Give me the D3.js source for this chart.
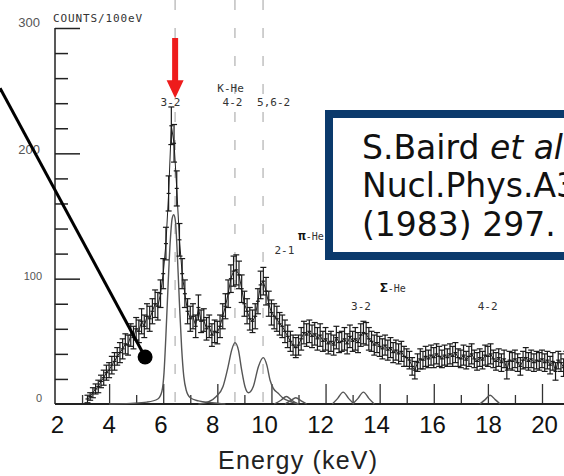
<!DOCTYPE html>
<html>
<head>
<meta charset="utf-8">
<script src="https://cdn.jsdelivr.net/npm/d3@7"></script>
<style>
body { margin: 0; background: #fff; }
svg { display: block; }
.mono { font-family: "DejaVu Sans Mono", monospace; fill: #333; }
.axis-labels text { font-family: "Liberation Sans", Arial, sans-serif; font-size: 24px; fill: #111; }
</style>
</head>
<body>
<svg width="564" height="476"></svg>
<script>
// counts per 100 eV bin, first bin at 3.2 keV
var binStart = 3.2, binWidth = 0.1;
var counts = [
  4, 6, 9, 12, 14, 18, 21, 25, 27, 31,
  34, 38, 41, 44, 48, 47, 55, 53, 60, 58,
  66, 62, 70, 68, 74, 80, 78, 88, 104, 128,
  168, 222, 208, 172, 131, 104, 88, 74, 68, 70,
  62, 77, 66, 67, 60, 62, 55, 58, 57, 62,
  70, 78, 88, 100, 106, 107, 103, 92, 80, 74,
  68, 66, 70, 82, 95, 98, 90, 80, 73, 70,
  68, 64, 62, 58, 54, 50, 47, 45, 47, 52,
  57, 55, 58, 54, 56, 52, 55, 50, 52, 48,
  50, 47, 53, 49, 50, 52, 48, 54, 50, 52,
  49, 55, 57, 56, 52, 50, 47, 49, 46, 44,
  47, 43, 45, 41, 43, 40, 42, 38, 37, 35,
  30, 27, 33, 36, 35, 38, 36, 39, 37, 40,
  38, 36, 39, 37, 40, 38, 41, 37, 36, 39,
  35, 38, 40, 36, 34, 37, 35, 39, 38, 40,
  36, 34, 37, 33, 36, 27, 35, 34, 36, 33,
  30, 35, 37, 34, 36, 33, 35, 34, 36, 33,
  35, 31, 34, 26, 35, 33, 29, 34
];
var errs = [
  3, 3, 4, 4, 5, 5, 6, 6, 6, 7,
  7, 7, 8, 8, 8, 8, 9, 9, 9, 9,
  10, 9, 10, 10, 10, 11, 11, 11, 12, 13,
  14, 15, 15, 14, 13, 12, 11, 10, 10, 10,
  9, 10, 9, 9, 9, 9, 9, 9, 9, 9,
  10, 10, 11, 11, 12, 12, 11, 11, 10, 10,
  9, 9, 10, 10, 11, 11, 11, 10, 10, 10,
  10, 9, 9, 9, 9, 8, 8, 8, 8, 9,
  9, 9, 9, 9, 9, 9, 9, 8, 9, 8,
  8, 8, 9, 8, 8, 9, 8, 9, 8, 9,
  8, 9, 9, 9, 9, 8, 8, 8, 8, 8,
  8, 8, 8, 8, 8, 8, 8, 8, 7, 7,
  7, 7, 7, 8, 7, 8, 7, 8, 8, 8,
  8, 7, 8, 7, 8, 8, 8, 7, 7, 8,
  7, 8, 8, 7, 7, 7, 7, 8, 8, 8,
  7, 7, 7, 7, 7, 7, 7, 7, 7, 7,
  7, 7, 8, 7, 7, 7, 7, 7, 7, 7,
  7, 7, 7, 7, 7, 7, 7, 8
];

// fitted line shapes [keV, counts]
var fitMain = [[4.0,0],[4.8,0.5],[5.4,1.5],[5.8,4],[5.95,10],[6.03,25],[6.1,55],[6.18,95],[6.26,130],[6.33,148],[6.39,151],[6.45,146],[6.52,120],[6.6,80],[6.68,45],[6.76,22],[6.85,11],[7.0,5],[7.3,2.5],[7.8,1],[8.3,0]];
var fitKHe = [[7.3,0],[7.7,2],[7.96,6],[8.21,14],[8.4,30],[8.53,43],[8.65,49],[8.78,43],[8.9,27],[9.02,14],[9.15,9],[9.33,14],[9.52,30],[9.7,37],[9.83,31],[9.95,19],[10.07,12.5],[10.25,8.5],[10.44,4.5],[10.7,2],[11.0,0]];
var fitSmall = [
  [[10.1,0],[10.35,3],[10.55,6],[10.75,3],[11.0,0]],
  [[10.5,0],[10.7,2.5],[10.9,5],[11.1,2.5],[11.3,0]],
  [[12.25,0],[12.45,4.5],[12.65,9.5],[12.85,4.5],[13.05,0]],
  [[13.0,0],[13.2,4.5],[13.4,9.5],[13.6,4.5],[13.8,0]],
  [[17.7,0],[17.9,3.5],[18.08,7],[18.27,3.5],[18.45,0]]
];

var dashedLines = [6.44, 8.65, 9.69];
var xTickLabels = [2, 4, 6, 8, 10, 12, 14, 16, 18, 20];
var yTickLabels = [0, 100, 200, 300];

// peak labels: text, keV, counts, anchor
var peakLabels = [
  ["3-2", 6.27, 238, "middle"],
  ["K-He", 8.49, 249, "middle"],
  ["4-2", 8.56, 238, "middle"],
  ["5,6-2", 10.08, 238, "middle"],
  ["2-1", 10.48, 120, "middle"],
  ["3-2", 13.31, 75, "middle"],
  ["4-2", 17.99, 75, "middle"]
];
var greekLabels = [["\u03c0", "-He", 10.98, 131], ["\u03a3", "-He", 14.01, 89]];

var svg = d3.select("svg");

var x = d3.scaleLinear().domain([2, 20]).range([55, 542]);
var y = d3.scaleLinear().domain([0, 300]).range([404, 28]);
// the big tick numbers were pasted on slightly off the scan's tick marks
var xLab = d3.scaleLinear().domain([2, 10, 20]).range([57, 264, 544]);

var data = counts.map(function(c, i) {
  return { e: binStart + i * binWidth, c: c, err: errs[i] };
});

svg.append("rect").attr("width", 564).attr("height", 476).attr("fill", "#fff");

// dashed guide lines
svg.append("g").selectAll("line")
  .data(dashedLines)
  .enter().append("line")
    .attr("x1", function(d) { return x(d); })
    .attr("x2", function(d) { return x(d); })
    .attr("y1", 0)
    .attr("y2", y(0))
    .attr("stroke", "#c4c4c4")
    .attr("stroke-width", 1.6)
    .attr("stroke-dasharray", "10,18");

// y axis: minor ticks every 20, longer ones every 100
var yAxisMinor = d3.axisRight(y).tickValues(d3.range(20, 301, 20)).tickSize(13).tickFormat("");
var gy = svg.append("g").attr("transform", "translate(55,0)").call(yAxisMinor);
gy.select(".domain").remove();
gy.selectAll(".tick line")
  .attr("x2", function(d) { return d % 100 === 0 ? 25 : 13; })
  .attr("stroke", "#222").attr("stroke-width", 1.5);
svg.append("line")
  .attr("x1", 55).attr("x2", 55).attr("y1", y(300)).attr("y2", y(0))
  .attr("stroke", "#222").attr("stroke-width", 1.5);

svg.append("g").selectAll("text")
  .data(yTickLabels)
  .enter().append("text")
    .attr("x", function(d) { return d >= 200 ? 40 : 42; })
    .attr("y", function(d) { return y(d) - (d === 300 ? 1 : (d === 0 ? 2 : -1)); })
    .attr("text-anchor", "end")
    .style("font-family", "Liberation Sans, Arial, sans-serif")
    .style("font-size", function(d) { return d >= 200 ? "13px" : "11px"; })
    .style("fill", "#555")
    .text(function(d) { return d; });

svg.append("text")
  .attr("class", "mono")
  .attr("x", 53).attr("y", 22)
  .attr("textLength", 89)
  .style("font-size", "11px")
  .text("COUNTS/100eV");

// x axis ticks pointing up: long at even keV, short at odd
var gxMajor = svg.append("g").attr("transform", "translate(0," + y(0) + ")")
  .call(d3.axisBottom(x).tickValues(d3.range(4, 21, 2)).tickSize(-20).tickFormat(""));
var gxMinor = svg.append("g").attr("transform", "translate(0," + y(0) + ")")
  .call(d3.axisBottom(x).tickValues(d3.range(3, 20, 2)).tickSize(-9).tickFormat(""));
[gxMajor, gxMinor].forEach(function(g) {
  g.select(".domain").remove();
  g.selectAll(".tick line").attr("stroke", "#333").attr("stroke-width", 1.3);
});
svg.append("line")
  .attr("x1", 55).attr("x2", 564).attr("y1", y(0)).attr("y2", y(0))
  .attr("stroke", "#222").attr("stroke-width", 2);

// fit curves
var fitLine = d3.line()
  .x(function(d) { return x(d[0]); })
  .y(function(d) { return y(d[1]); })
  .curve(d3.curveMonotoneX);
svg.append("g").selectAll("path")
  .data([fitMain, fitKHe].concat(fitSmall))
  .enter().append("path")
    .attr("d", fitLine)
    .attr("fill", "none")
    .attr("stroke", "#555")
    .attr("stroke-width", 1.4);

// measured spectrum with error bars
var dataLine = d3.line()
  .x(function(d) { return x(d.e); })
  .y(function(d) { return y(d.c); });
svg.append("path")
  .datum(data)
  .attr("d", dataLine)
  .attr("fill", "none")
  .attr("stroke", "#222")
  .attr("stroke-width", 1);

var bars = svg.append("g").attr("stroke", "#1a1a1a").attr("stroke-width", 1.2)
  .selectAll("g")
  .data(data)
  .enter().append("g");
bars.append("line")
  .attr("x1", function(d) { return x(d.e); })
  .attr("x2", function(d) { return x(d.e); })
  .attr("y1", function(d) { return y(Math.max(0, d.c - d.err)); })
  .attr("y2", function(d) { return y(d.c + d.err); });
bars.append("line")
  .attr("x1", function(d) { return x(d.e) - 3; })
  .attr("x2", function(d) { return x(d.e) + 3; })
  .attr("y1", function(d) { return y(d.c + d.err); })
  .attr("y2", function(d) { return y(d.c + d.err); });
bars.append("line")
  .attr("x1", function(d) { return x(d.e) - 3; })
  .attr("x2", function(d) { return x(d.e) + 3; })
  .attr("y1", function(d) { return y(Math.max(0, d.c - d.err)); })
  .attr("y2", function(d) { return y(Math.max(0, d.c - d.err)); });
bars.append("line")
  .attr("x1", function(d) { return x(d.e) - 2; })
  .attr("x2", function(d) { return x(d.e) + 2; })
  .attr("y1", function(d) { return y(d.c); })
  .attr("y2", function(d) { return y(d.c); });

// transition labels from the scan
svg.append("g").selectAll("text")
  .data(peakLabels)
  .enter().append("text")
    .attr("class", "mono")
    .attr("x", function(d) { return x(d[1]); })
    .attr("y", function(d) { return y(d[2]); })
    .attr("text-anchor", function(d) { return d[3]; })
    .style("font-size", "11px")
    .text(function(d) { return d[0]; });

var greek = svg.append("g").selectAll("text")
  .data(greekLabels)
  .enter().append("text")
    .attr("class", "mono")
    .attr("x", function(d) { return x(d[2]); })
    .attr("y", function(d) { return y(d[3]); })
    .style("font-size", "10px");
greek.append("tspan").style("font-weight", "bold").style("font-size", "13px").style("fill", "#111")
  .text(function(d) { return d[0]; });
greek.append("tspan").text(function(d) { return d[1]; });

// red arrow over the 3-2 line
var ax = x(6.44), aTop = y(292), aTip = y(244);
svg.append("path")
  .attr("d", "M" + (ax - 3) + "," + aTop + "V" + (aTip - 18) + "H" + (ax - 8.5) +
    "L" + ax + "," + aTip + "L" + (ax + 8.5) + "," + (aTip - 18) + "H" + (ax + 3) + "V" + aTop + "Z")
  .attr("fill", "#ee1c1c");

// reference box, runs off the right edge like the original slide
svg.append("rect")
  .attr("x", 329).attr("y", 114)
  .attr("width", 260).attr("height", 142)
  .attr("fill", "#fff")
  .attr("stroke", "#0b3a6c")
  .attr("stroke-width", 8);

var refText = svg.append("g")
  .style("font-family", "DejaVu Sans, Verdana, sans-serif")
  .style("font-size", "33px")
  .style("fill", "#111");
var t1 = refText.append("text").attr("x", 362).attr("y", 159);
t1.append("tspan").text("S.Baird ");
t1.append("tspan").style("font-style", "italic").text("et al.");
refText.append("text").attr("x", 362).attr("y", 197).text("Nucl.Phys.A392");
refText.append("text").attr("x", 362).attr("y", 236).text("(1983) 297.");

// pointer from the left edge to the low-energy shoulder
svg.append("line")
  .attr("x1", x(-0.03)).attr("y1", y(252))
  .attr("x2", x(5.33)).attr("y2", y(37.5))
  .attr("stroke", "#000")
  .attr("stroke-width", 3);
svg.append("circle")
  .attr("cx", x(5.33)).attr("cy", y(37.5))
  .attr("r", 7.5)
  .attr("fill", "#000");

// big tick numbers and axis title
var gLab = svg.append("g").attr("class", "axis-labels")
  .attr("transform", "translate(0,410)")
  .call(d3.axisBottom(xLab).tickValues(xTickLabels).tickSize(0).tickPadding(0));
gLab.select(".domain").remove();
gLab.selectAll("text").attr("dy", null).attr("y", 23).attr("fill", "#111");

svg.append("text")
  .attr("x", 218).attr("y", 469)
  .attr("textLength", 159)
  .style("font-family", "Liberation Sans, Arial, sans-serif")
  .style("font-size", "25px")
  .style("fill", "#222")
  .text("Energy (keV)");
</script>
</body>
</html>
